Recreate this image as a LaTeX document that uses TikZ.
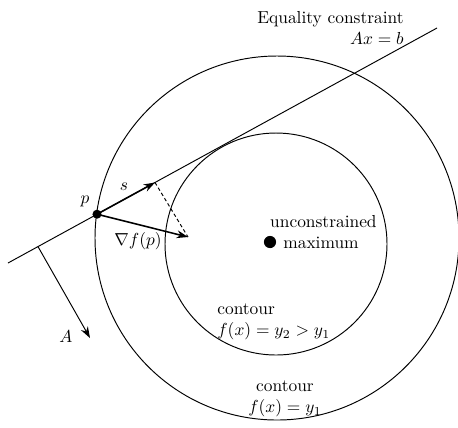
\documentclass[tikz,border=0pt]{standalone}
\usetikzlibrary{arrows.meta}
\begin{document}
\begin{tikzpicture}[x=0.575pt,y=-0.575pt,
  thinline/.style={line width=0.55pt},
  vec/.style={line width=0.9pt,-{Stealth[length=6.5pt,width=4.5pt]}},
  avec/.style={line width=0.55pt,-{Stealth[length=6.5pt,width=4.5pt]}},
  lbl/.style={inner sep=0pt,font=\normalsize}]
\useasboundingbox (0,0) rectangle (458,427);
% circles
\draw[thinline] (277,238) circle[radius=182*0.575pt];
\draw[thinline] (276,244) circle[radius=111*0.575pt];
% constraint line
\coordinate (l0) at (8,263);
\coordinate (l1) at (437,28);
\draw[thinline] (l0) -- (l1);
% points
\coordinate (p) at (97,214.2);
\coordinate (s) at (155,182.5);
\coordinate (g) at (188,237);
\coordinate (a0) at (38,246.6);
\coordinate (a1) at (90,338);
\draw[vec] (p) -- (s);
\draw[vec] (p) -- (g);
\draw[thinline,dashed,dash pattern=on 2pt off 1.5pt] (s) -- (g);
\draw[avec] (a0) -- (a1);
\fill (p) circle[radius=2.6pt];
\node[circle,fill,inner sep=0pt,minimum size=7pt] (m) at (270,242) {};
% labels
\node[lbl] (pl) at (85,201) {$p$};
\node[lbl] (sl) at (124,187) {$s$};
\node[lbl] (gl) at (138,241) {$\nabla f(p)$};
\node[lbl] (al) at (66,337) {$A$};
\node[lbl,anchor=east] (u1) at (377,222) {unconstrained};
\node[lbl,anchor=west] (u2) at (283,243) {maximum};
\node[lbl,anchor=west,align=left] (c2) at (217,322) {contour\\$f(x)=y_2>y_1$};
\node[lbl,align=center] (c1) at (285,399) {contour\\$f(x)=y_1$};
\node[lbl,anchor=east,align=right] (eq) at (404,28) {Equality constraint\\$Ax=b$};
\end{tikzpicture}
\end{document}
